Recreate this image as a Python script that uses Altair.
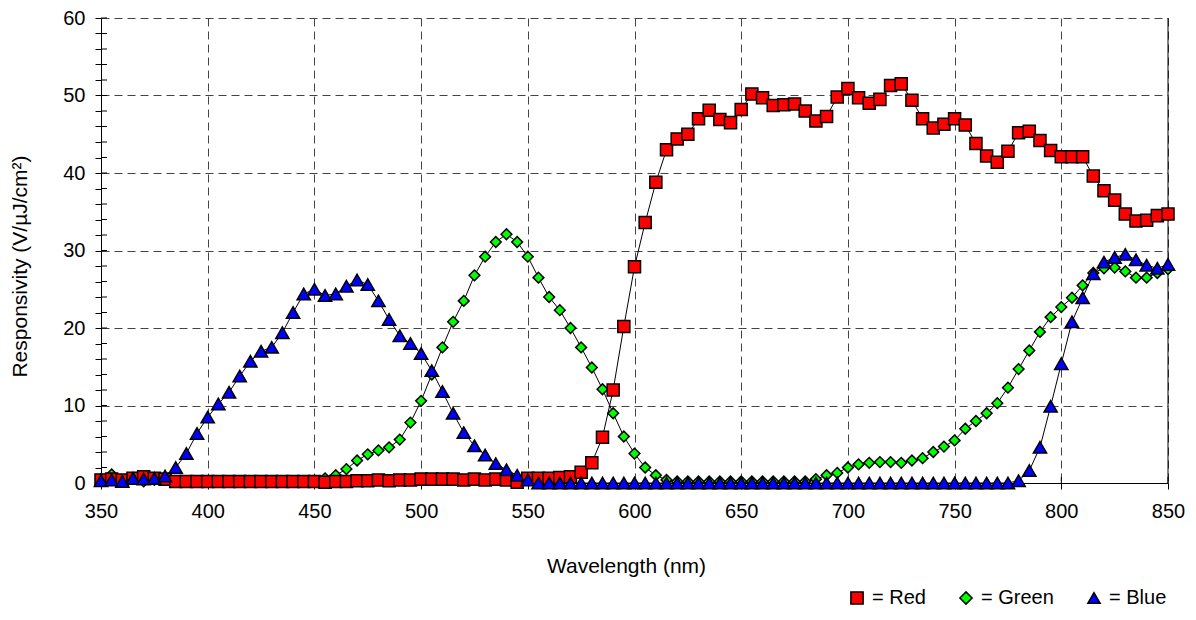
import altair as alt
import pandas as pd

FONT = "Liberation Sans"

wavelength = list(range(350, 851, 5))

red = [0.4, 0.5, 0.4, 0.6, 0.8, 0.6, 0.5,
       0.2, 0.2, 0.2, 0.2, 0.2, 0.2, 0.2, 0.2, 0.2, 0.2, 0.2, 0.2, 0.2, 0.2,
       0.1, 0.2, 0.2, 0.3, 0.3, 0.4, 0.3, 0.4, 0.4, 0.5, 0.5, 0.5, 0.5, 0.4, 0.5, 0.4, 0.5,
       0.4, 0.1, 0.6, 0.6, 0.6, 0.7, 0.8, 1.4, 2.6, 5.9,
       12.0, 20.2, 27.9, 33.6, 38.8, 43.0, 44.4, 45.0, 47.0, 48.1,
       46.9, 46.5, 48.2, 50.2, 49.7, 48.7, 48.8, 48.9, 48.0, 46.7,
       47.3, 49.8, 50.9, 49.7, 49.0, 49.5, 51.3, 51.5, 49.4, 47.0,
       45.8, 46.3, 47.0, 46.2, 43.8, 42.2, 41.4, 42.8, 45.2, 45.4,
       44.2, 42.9, 42.1, 42.1, 42.1, 39.6, 37.7, 36.5, 34.7, 33.8,
       33.9, 34.5, 34.7]

green = [0.5, 1.1, 0.3, 0.6, 0.2, 0.4, 0.5,
         0.2, 0.2, 0.2, 0.2, 0.2, 0.2, 0.2, 0.2, 0.2, 0.2, 0.2, 0.2, 0.2,
         0.3, 0.6, 1.0, 1.8, 2.9, 3.7, 4.2, 4.6, 5.6, 7.8,
         10.6, 14.0, 17.5, 20.8, 23.5, 26.8, 29.2, 31.1, 32.1, 31.1,
         29.2, 26.5, 24.0, 22.3, 20.0, 17.5, 14.9, 12.1, 9.0, 6.0,
         3.8, 2.0, 1.0, 0.4,
         0.2, 0.2, 0.2, 0.2, 0.2, 0.2, 0.2, 0.2, 0.2, 0.2, 0.2, 0.2, 0.2,
         0.5, 1.0, 1.3, 2.0, 2.4, 2.6, 2.7, 2.7, 2.6, 2.9,
         3.2, 4.0, 4.7, 5.5, 7.0, 8.0, 9.0, 10.3, 12.3, 14.7,
         17.1, 19.5, 21.4, 22.7, 23.9, 25.5, 27.1, 27.7, 27.8, 27.3,
         26.5, 26.5, 27.1, 27.6]

blue = [0.3, 0.4, 0.2, 0.6, 0.5, 0.6, 0.9,
        2.0, 3.8, 6.4, 8.5, 10.2, 11.7, 13.8, 15.7, 17.0, 17.5,
        19.4, 22.0, 24.4, 25.0, 24.2, 24.4, 25.4, 26.2, 25.6, 23.5,
        21.1, 19.0, 18.0, 16.7, 14.5, 11.8, 9.0, 6.5, 4.8, 3.6,
        2.5, 1.7, 1.0, 0.4,
        0.0, 0.0, 0.0, 0.0, 0.0, 0.0, 0.0, 0.0, 0.0, 0.0,
        0.0, 0.0, 0.0, 0.0, 0.0, 0.0, 0.0, 0.0, 0.0, 0.0,
        0.0, 0.0, 0.0, 0.0, 0.0, 0.0, 0.0, 0.0, 0.0, 0.0,
        0.0, 0.0, 0.0, 0.0, 0.0, 0.0, 0.0, 0.0, 0.0, 0.0,
        0.0, 0.0, 0.0, 0.0, 0.0,
        0.3, 1.6, 4.6, 9.9, 15.4, 20.8, 23.9, 27.0, 28.5, 29.1,
        29.5, 28.8, 28.1, 27.7, 28.2]

series_names = ["Red", "Green", "Blue"]
fill_colors = ["#FF0000", "#00FF00", "#0000FF"]
outline_colors = ["black", "black", "black"]
shapes = ["square", "diamond", "triangle-up"]
marker_size = {"Red": 145, "Green": 115, "Blue": 175}
draw_order = ["Green", "Red", "Blue"]

x_tick_values = [350, 400, 450, 500, 550, 600, 650, 700, 750, 800, 850]
y_tick_values = list(range(0, 61, 2))
right_edge = [850]

series_values = {"Red": red, "Green": green, "Blue": blue}
rows = []
for name in draw_order:
    for w, v in zip(wavelength, series_values[name]):
        rows.append({"wavelength": w, "value": v, "series": name})
df = pd.DataFrame(rows)

W, H = 1067, 465

x_scale = alt.Scale(domain=[350, 850], nice=False, zero=False)
y_scale = alt.Scale(domain=[0, 60], nice=False, zero=False)

x_axis = alt.Axis(
    values=x_tick_values, title="Wavelength (nm)", grid=True,
    tickSize=6, labelPadding=12, labelFlush=False,
    titleX=525, titleY=89, titleAlign="center", titleBaseline="alphabetic",
)
y_axis = alt.Axis(
    values=y_tick_values, title="Responsivity (V/µJ/cm²)", grid=True,
    labelExpr="datum.value % 10 == 0 ? datum.label : ''",
    gridOpacity={"condition": {"test": "datum.value % 10 == 0", "value": 1}, "value": 0},
    tickSize=6, labelPadding=10, labelFlush=False,
    titleX=-81, titleY=248, titleAlign="center", titleBaseline="middle", titleAngle=270,
)

X = alt.X("wavelength:Q", scale=x_scale, axis=x_axis)
Y = alt.Y("value:Q", scale=y_scale, axis=y_axis)

base = alt.Chart(df)

lines = base.mark_line(color="black", strokeWidth=1).encode(
    x=X, y=Y, detail="series:N",
)

legend = alt.Legend(
    orient="none", legendX=746, legendY=570, direction="horizontal", title=None,
    labelExpr="'= ' + datum.label", columnPadding=30, labelOffset=5, padding=0,
    symbolStrokeWidth=1.5, symbolSize=150,
)

fill_enc = alt.Fill("series:N", scale=alt.Scale(domain=series_names, range=fill_colors), legend=legend)
shape_enc = alt.Shape("series:N", scale=alt.Scale(domain=series_names, range=shapes), legend=legend)
stroke_enc = alt.Stroke("series:N", scale=alt.Scale(domain=series_names, range=outline_colors), legend=legend)

point_layers = []
for name in draw_order:
    point_layers.append(
        base.transform_filter(alt.datum.series == name).mark_point(
            filled=True, strokeWidth=1.5, opacity=1, size=marker_size[name]
        ).encode(x=X, y=Y, fill=fill_enc, shape=shape_enc, stroke=stroke_enc)
    )

y_inner_ticks = alt.Chart(pd.DataFrame({"value": y_tick_values})).mark_rule(
    color="black", strokeWidth=1
).encode(
    y=Y, x=alt.value(0), x2=alt.value(6),
)

x_inner_ticks = alt.Chart(pd.DataFrame({"wavelength": x_tick_values})).mark_rule(
    color="black", strokeWidth=1
).encode(
    x=X, y=alt.value(H - 6), y2=alt.value(H),
)

border = alt.Chart(pd.DataFrame({"wavelength": right_edge})).mark_rule(
    color="black", strokeWidth=1
).encode(
    x=X,
)

chart = alt.layer(lines, y_inner_ticks, x_inner_ticks, border, *point_layers).properties(
    width=W, height=H,
    autosize=alt.AutoSizeParams(type="none"),
    padding={"left": 93, "top": 10, "right": 18, "bottom": 128},
    background="white",
).configure_view(
    strokeWidth=0
).configure_axis(
    labelFont=FONT, labelFontSize=20, labelColor="black",
    titleFont=FONT, titleFontSize=21, titleFontWeight="normal", titleColor="black",
    domainColor="black", domainWidth=1, tickColor="black", tickWidth=1,
    gridColor="#444444", gridDash=[8, 5], gridWidth=1,
).configure_legend(
    labelFont=FONT, labelFontSize=20, labelColor="black",
    symbolStrokeWidth=1.5, symbolSize=150,
)

chart.save("out.html", embed_options={"renderer": "svg", "actions": False})
